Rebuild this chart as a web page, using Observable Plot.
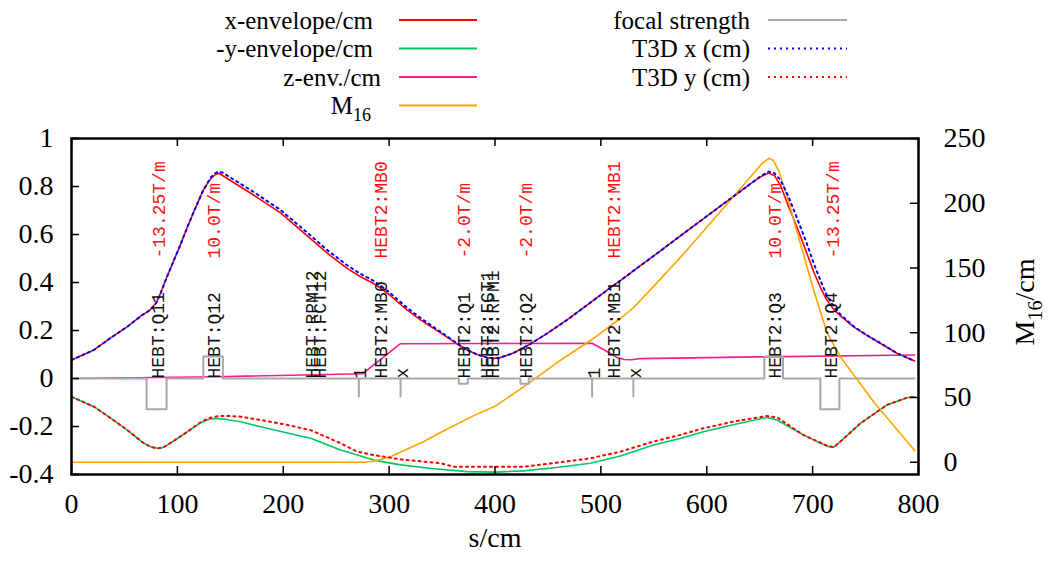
<!DOCTYPE html>
<html><head><meta charset="utf-8">
<script src="https://cdn.jsdelivr.net/npm/d3@7"></script>
<script src="https://cdn.jsdelivr.net/npm/@observablehq/plot@0.6"></script>
<style>
body{margin:0;background:#fff;}
#wrap{width:1053px;height:563px;overflow:hidden;}
#legend,#chart{display:block;line-height:0;}
</style></head><body>
<div id="wrap"><div id="legend"></div><div id="chart"></div></div>
<script>
// ---------- data ----------
const xEnvS = [0, 21.2, 37, 52.8, 66, 74.1, 80, 84.2, 89.8, 96.5, 103.1, 109.4, 116, 122, 124.5, 128, 132, 136, 139.2, 143, 170, 197.5, 220, 241.6, 260, 273, 285.3, 300, 317.1, 329.6, 348.5, 364.3, 373.7, 383, 392.6, 398.6, 405, 417.4, 433.5, 450, 468.1, 505.9, 518.4, 537.3, 549.6, 581.4, 612.8, 644, 652, 658.5, 664, 669.5, 677, 685.3, 694.7, 701, 707.3, 713, 719.5, 726, 738.4, 750, 763.9, 779.7, 796.3];
const xEnvV = [0.077, 0.119, 0.169, 0.216, 0.262, 0.285, 0.315, 0.356, 0.42, 0.49, 0.56, 0.63, 0.70, 0.76, 0.785, 0.81, 0.835, 0.85, 0.855, 0.845, 0.77, 0.69, 0.605, 0.522, 0.46, 0.424, 0.396, 0.35, 0.285, 0.244, 0.19, 0.144, 0.119, 0.1, 0.087, 0.084, 0.087, 0.106, 0.144, 0.19, 0.244, 0.368, 0.408, 0.47, 0.51, 0.615, 0.718, 0.82, 0.843, 0.856, 0.845, 0.806, 0.72, 0.63, 0.52, 0.445, 0.38, 0.33, 0.29, 0.262, 0.216, 0.183, 0.147, 0.105, 0.073];

const t3dXS = [0, 21.2, 37, 52.8, 66, 74.1, 80, 84.2, 89.8, 96.5, 103.1, 109.4, 116, 122, 124.5, 128, 132, 136, 139.2, 143, 170, 197.5, 220, 241.6, 260, 273, 285.3, 300, 317.1, 329.6, 348.5, 364.3, 373.7, 383, 392.6, 398.6, 405, 417.4, 433.5, 450, 468.1, 505.9, 518.4, 537.3, 549.6, 581.4, 612.8, 644, 652, 658.5, 664, 669.5, 677, 685.3, 694.7, 701, 707.3, 713, 719.5, 726, 738.4, 750, 763.9, 779.7, 796.3];
const t3dXV = [0.077, 0.119, 0.169, 0.216, 0.262, 0.285, 0.315, 0.356, 0.42, 0.49, 0.56, 0.63, 0.70, 0.76, 0.785, 0.812, 0.84, 0.856, 0.862, 0.857, 0.783, 0.702, 0.618, 0.535, 0.473, 0.436, 0.407, 0.36, 0.294, 0.252, 0.195, 0.146, 0.119, 0.1, 0.087, 0.084, 0.087, 0.106, 0.144, 0.19, 0.244, 0.368, 0.408, 0.47, 0.51, 0.615, 0.718, 0.82, 0.846, 0.862, 0.855, 0.828, 0.76, 0.668, 0.56, 0.48, 0.41, 0.35, 0.303, 0.268, 0.218, 0.184, 0.148, 0.105, 0.073];

const yEnvS = [0, 21.2, 37, 52.8, 68.4, 75, 81.1, 86, 90.5, 100, 109.4, 122, 130, 136.1, 145, 159.7, 178.6, 200, 225.8, 254.2, 270, 285.3, 310.8, 340, 373.7, 400, 427.2, 460, 490.2, 518.4, 549.6, 575, 596.8, 625, 656.9, 666.4, 691.2, 705, 715.1, 720, 726.2, 745.1, 770.2, 789.1, 796.3];
const yEnvV = [-0.076, -0.1175, -0.165, -0.215, -0.27, -0.285, -0.291, -0.288, -0.277, -0.25, -0.222, -0.184, -0.17, -0.166, -0.17, -0.18, -0.201, -0.223, -0.249, -0.298, -0.319, -0.34, -0.36, -0.375, -0.388, -0.39, -0.385, -0.37, -0.353, -0.323, -0.277, -0.25, -0.222, -0.193, -0.162, -0.173, -0.235, -0.265, -0.284, -0.286, -0.263, -0.187, -0.11, -0.08, -0.076];

const t3dYS = [0, 21.2, 37, 52.8, 68.4, 75, 81.1, 86, 90.5, 100, 109.4, 122, 130, 138, 147.1, 159.7, 178.6, 200, 225.8, 254.2, 270, 285.3, 310.8, 348.5, 360.8, 398.6, 427.2, 460, 490.2, 518.4, 549.6, 575, 596.8, 625, 656.9, 666.4, 691.2, 705, 715.1, 720, 726.2, 745.1, 770.2, 789.1, 796.3];
const t3dYV = [-0.076, -0.1175, -0.165, -0.215, -0.27, -0.285, -0.291, -0.288, -0.277, -0.25, -0.222, -0.182, -0.165, -0.157, -0.156, -0.159, -0.173, -0.19, -0.215, -0.27, -0.305, -0.319, -0.337, -0.353, -0.3675, -0.3675, -0.3675, -0.35, -0.3325, -0.305, -0.263, -0.235, -0.2075, -0.18, -0.156, -0.162, -0.235, -0.263, -0.282, -0.286, -0.263, -0.187, -0.11, -0.08, -0.076];

const zEnvS = [0, 137.7, 275, 310.8, 400, 491.7, 503, 515, 522, 529, 537, 650, 796.3];
const zEnvV = [0, 0.0075, 0.02, 0.145, 0.146, 0.147, 0.12, 0.088, 0.079, 0.078, 0.083, 0.09, 0.098];

const m16S = [0, 275.8, 285, 292, 301.3, 332.8, 348.5, 380, 399.5, 425.7, 458.7, 490.2, 518.4, 531, 549.6, 581.4, 612.8, 644.3, 652, 658.5, 663, 668, 676, 685.3, 700.9, 713.6, 726.2, 757.6, 796.3];
const m16V = [0, 0, 0.8, 2.2, 4.3, 16, 23, 36, 43, 57.4, 77, 94, 111, 119.5, 135.6, 163.9, 193.5, 223.1, 230.5, 234.7, 233, 225, 205, 178, 133, 100, 81.5, 46.8, 9];

// focal strength elements
const elemStart = [70.9, 124.5, 271.4, 310.8, 365.8, 424, 491.7, 530.7, 654.4, 707.3];
const elemEnd   = [89.8, 143, 271.4, 310.8, 374.3, 431.9, 491.7, 530.7, 672, 725.3];
const elemStrength = [-0.128, 0.092, -0.075, -0.075, -0.022, -0.022, -0.075, -0.075, 0.092, -0.128];
const beamEnd = 796.3;

// element labels
const nameS = [82.3, 135.2, 227.7, 235.2, 273, 292.8, 312.4, 371.2, 393, 398.6, 429.7, 494, 512.8, 532.6, 664.8, 717.6];
const nameText = ["HEBT:Q11", "HEBT:Q12", "HEBT:RPM12", "HEBT:FCT12", "1", "HEBT2:MB0", "x", "HEBT2:Q1", "HEBT2:FCT1", "HEBT2:RPM1", "HEBT2:Q2", "1", "HEBT2:MB1", "x", "HEBT2:Q3", "HEBT2:Q4"];
const fieldS = [83.3, 135.2, 292.8, 371.2, 429.7, 512.8, 664.8, 719.5];
const fieldText = ["-13.25T/m", "10.0T/m", "HEBT2:MB0", "-2.0T/m", "-2.0T/m", "HEBT2:MB1", "10.0T/m", "-13.25T/m"];

// ticks
const xTicks = [0, 100, 200, 300, 400, 500, 600, 700, 800];
const yTicks = [-0.4, -0.2, 0, 0.2, 0.4, 0.6, 0.8, 1];
const y2Ticks = [0, 50, 100, 150, 200, 250];
const y2Lo = -0.349, y2Hi = 1.0; // left-axis positions of M16 = 0 and 250

// legend
const legendLabels = ["x-envelope/cm", "-y-envelope/cm", "z-env./cm", "M", "focal strength", "T3D x (cm)", "T3D y (cm)"];
const legendSub = ["", "", "", "16", "", "", ""];
const legendColors = ["#ff0000", "#00c864", "#ff1a8c", "#ffa500", "#a8a8a8", "#0000ff", "#ff0000"];
const legendDash = [null, null, null, null, null, "2 4", "2 4"];

// ---------- build ----------
const mToY = m => y2Lo + m * (y2Hi - y2Lo) / 250;
const yToM = y => (y - y2Lo) * 250 / (y2Hi - y2Lo);
const pts = (S, V, f = v => v) => S.map((s, i) => ({s, v: f(V[i])}));

const focal = [{s: 0, v: 0}];
elemStart.forEach((a, i) => { focal.push({s: a, v: elemStrength[i]}); focal.push({s: elemEnd[i], v: 0}); });
focal.push({s: beamEnd, v: 0});

const LH = 124;
const W = 1053, H = 563 - LH, mL = 71, mR = 135, mT = 138 - LH, mB = 89;
const innerW = W - mL - mR, innerH = H - mT - mB;
const serif = "Liberation Serif";

const plot = Plot.plot({
  width: W, height: H,
  marginLeft: mL, marginRight: mR, marginTop: mT, marginBottom: mB,
  x: {domain: [0, 800]},
  y: {domain: [-0.4, 1]},
  style: {fontFamily: serif, fontSize: "28px", background: "white", color: "black", overflow: "visible"},
  marks: [
    Plot.line(pts(xEnvS, xEnvV), {x: "s", y: "v", stroke: legendColors[0], strokeWidth: 1.6}),
    Plot.line(pts(yEnvS, yEnvV), {x: "s", y: "v", stroke: legendColors[1], strokeWidth: 1.6}),
    Plot.line(pts(zEnvS, zEnvV), {x: "s", y: "v", stroke: legendColors[2], strokeWidth: 1.6}),
    Plot.line(pts(m16S, m16V, mToY), {x: "s", y: "v", stroke: legendColors[3], strokeWidth: 1.6}),
    Plot.line(focal, {x: "s", y: "v", stroke: legendColors[4], strokeWidth: 2, curve: "step-after"}),
    Plot.line(pts(t3dXS, t3dXV), {x: "s", y: "v", stroke: legendColors[5], strokeWidth: 2, strokeDasharray: legendDash[5]}),
    Plot.line(pts(t3dYS, t3dYV), {x: "s", y: "v", stroke: legendColors[6], strokeWidth: 2, strokeDasharray: legendDash[6]}),
    Plot.text(nameText, {x: (d, i) => nameS[i], y: 0, text: d => d, rotate: -90, textAnchor: "start",
      fontFamily: "Liberation Mono", fontSize: 18, fill: "#111"}),
    Plot.text(fieldText, {x: (d, i) => fieldS[i], y: 0.5, text: d => d, rotate: -90, textAnchor: "start",
      fontFamily: "Liberation Mono", fontSize: 18, fill: "#ff1010"}),
    // inward ticks
    Plot.tickX(xTicks, {x: d => d, insetTop: innerH - 8, strokeWidth: 1.5}),
    Plot.tickX(xTicks, {x: d => d, insetBottom: innerH - 8, strokeWidth: 1.5}),
    Plot.tickY(yTicks, {y: d => d, insetRight: innerW - 8, strokeWidth: 1.5}),
    Plot.tickY(y2Ticks.map(mToY), {y: d => d, insetLeft: innerW - 8, strokeWidth: 1.5}),
    // tick labels
    Plot.axisX({ticks: xTicks, tickSize: 0, tickPadding: 19, label: null, tickFormat: d => String(d)}),
    Plot.axisY({ticks: yTicks, tickSize: 0, tickPadding: 18, label: null, tickFormat: d => String(+d.toFixed(1))}),
    Plot.axisY({anchor: "right", ticks: y2Ticks.map(mToY), tickSize: 0, tickPadding: 25, label: null,
      tickFormat: d => String(Math.round(yToM(d)))}),
    Plot.text(["s/cm"], {frameAnchor: "bottom", dy: 72, text: d => d, fontSize: 28}),
    Plot.frame({stroke: "black", strokeWidth: 2.5})
  ]
});
document.getElementById("chart").append(plot);

// right axis label with subscript
const y2lab = d3.select(plot).append("text")
  .attr("transform", `translate(${W - 19},${mT + innerH / 2 - 4}) rotate(-90)`)
  .attr("text-anchor", "middle").attr("fill", "black")
  .style("font-family", serif).style("font-size", "28px");
y2lab.append("tspan").text("M");
y2lab.append("tspan").attr("dy", 8).style("font-size", "20px").text("16");
y2lab.append("tspan").attr("dy", -8).text("/cm");

// legend
const lg = d3.select("#legend").append("svg").attr("width", W).attr("height", LH)
  .style("font-family", serif).style("font-size", "25px").style("display", "block");
const textRight = [373, 373, 381, 371, 750, 750, 750];
legendLabels.forEach((lab, i) => {
  const col = i < 4 ? 0 : 1, row = i < 4 ? i : i - 4;
  const y = 20 + row * 28.5;
  const t = lg.append("text").attr("x", textRight[i]).attr("y", y + 8.5)
    .attr("text-anchor", "end").attr("fill", "black").text(lab);
  if (legendSub[i]) t.append("tspan").attr("dy", 7).style("font-size", "18px").text(legendSub[i]);
  lg.append("line")
    .attr("x1", col === 0 ? 399 : 768).attr("x2", col === 0 ? 477 : 847)
    .attr("y1", y).attr("y2", y)
    .attr("stroke", legendColors[i]).attr("stroke-width", legendDash[i] ? 2 : 1.8)
    .attr("stroke-dasharray", legendDash[i]);
});
</script>
</body></html>
